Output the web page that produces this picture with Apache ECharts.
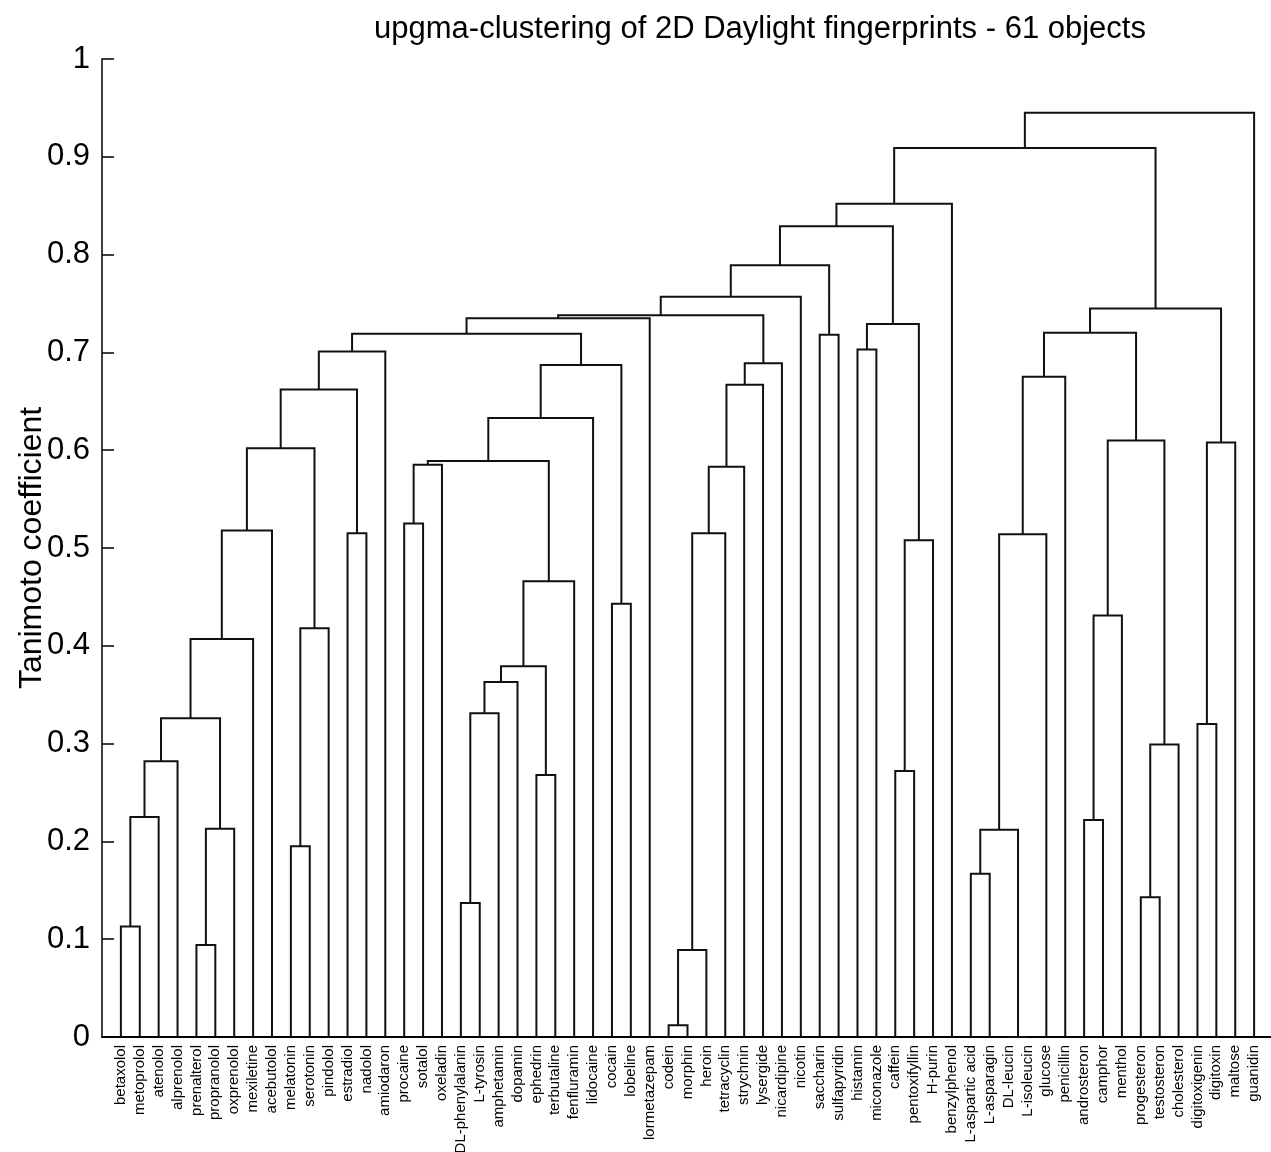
<!DOCTYPE html>
<html>
<head>
<meta charset="utf-8">
<title>upgma-clustering of 2D Daylight fingerprints</title>
<script src="https://cdn.jsdelivr.net/npm/echarts@6/dist/echarts.min.js"></script>
<style>
  html, body { margin: 0; padding: 0; background: #fff; }
  #chart { width: 1271px; height: 1152px; }
</style>
</head>
<body>
<div id="chart"></div>
<script>
  // leaves, in the order they sit under the tree (left to right)
  const leafNames = [
    'betaxolol', 'metoprolol', 'atenolol', 'alprenolol', 'prenalterol', 'propranolol',
    'oxprenolol', 'mexiletine', 'acebutolol', 'melatonin', 'serotonin', 'pindolol',
    'estradiol', 'nadolol', 'amiodaron', 'procaine', 'sotalol', 'oxeladin',
    'DL-phenylalanin', 'L-tyrosin', 'amphetamin', 'dopamin', 'ephedrin', 'terbutaline',
    'fenfluramin', 'lidocaine', 'cocain', 'lobeline', 'lormetazepam', 'codein',
    'morphin', 'heroin', 'tetracyclin', 'strychnin', 'lysergide', 'nicardipine',
    'nicotin', 'saccharin', 'sulfapyridin', 'histamin', 'miconazole', 'caffein',
    'pentoxifyllin', 'H-purin', 'benzylphenol', 'L-aspartic acid', 'L-asparagin', 'DL-leucin',
    'L-isoleucin', 'glucose', 'penicillin', 'androsteron', 'camphor', 'menthol',
    'progesteron', 'testosteron', 'cholesterol', 'digitoxigenin', 'digitoxin', 'maltose',
    'guanidin'
  ];

  // linkage: merge k joins clusters mergeA[k] and mergeB[k] into cluster 61 + k
  // (numbers below 61 are leaves)
  const mergeA = [47, 29, 62, 4, 0, 18, 54, 45, 9, 68,
    64, 51, 65, 22, 41, 73, 67, 57, 76, 66,
    80, 81, 79, 69, 72, 26, 82, 75, 70, 12,
    63, 83, 15, 91, 93, 95, 92, 78, 85, 96,
    97, 94, 89, 100, 102, 101, 39, 37, 106, 103,
    107, 109, 112, 110, 113, 115, 116, 117, 118, 119];
  const mergeB = [48, 30, 31, 5, 1, 19, 55, 46, 10, 61,
    6, 52, 2, 23, 42, 3, 56, 58, 71, 20,
    21, 74, 7, 11, 53, 27, 24, 43, 49, 13,
    32, 8, 16, 33, 17, 87, 84, 59, 77, 25,
    90, 34, 50, 86, 35, 14, 40, 38, 104, 99,
    88, 28, 105, 98, 36, 108, 111, 44, 114, 60];
  const mergeHeight = [0.000, 0.012, 0.089, 0.094, 0.113, 0.137, 0.143, 0.167, 0.195, 0.212,
    0.213, 0.222, 0.225, 0.268, 0.272, 0.282, 0.299, 0.320, 0.326, 0.331,
    0.363, 0.379, 0.407, 0.418, 0.431, 0.443, 0.466, 0.508, 0.514, 0.515,
    0.515, 0.518, 0.525, 0.583, 0.585, 0.589, 0.602, 0.608, 0.610, 0.633,
    0.662, 0.667, 0.675, 0.687, 0.689, 0.701, 0.703, 0.718, 0.719, 0.720,
    0.729, 0.735, 0.738, 0.745, 0.757, 0.789, 0.829, 0.852, 0.909, 0.945];

  const FONT = '"Liberation Sans", Arial, Helvetica, sans-serif';

  // leaf i sits at x = i + 1, a cluster sits between its two children
  let xPos = leafNames.map((_, i) => i + 1);
  let hPos = leafNames.map(() => 0);
  let links = [];
  mergeA.forEach((a, k) => {
    let b = mergeB[k],
      h = mergeHeight[k];
    links.push({
      coords: [[xPos[a], hPos[a]], [xPos[a], h], [xPos[b], h], [xPos[b], hPos[b]]]
    });
    xPos.push((xPos[a] + xPos[b]) / 2);
    hPos.push(h);
  });

  let option = {
    animation: false,
    backgroundColor: '#fff',
    title: {
      text: 'upgma-clustering of 2D Daylight fingerprints - 61 objects',
      left: 755,
      top: 9,
      textAlign: 'center',
      textStyle: {
        color: '#000',
        fontSize: 31,
        fontWeight: 'normal',
        fontFamily: FONT
      }
    },
    grid: {
      left: 102,
      top: 59,
      width: 1171,
      height: 978,
      outerBoundsMode: 'none'
    },
    xAxis: {
      type: 'value',
      min: 0,
      max: 62,
      interval: 1,
      splitLine: { show: false },
      axisTick: { show: false },
      axisLine: { lineStyle: { color: '#000', width: 2 } },
      axisLabel: {
        rotate: 90,
        margin: 8,
        color: '#000',
        fontSize: 15,
        fontFamily: FONT,
        formatter: v => leafNames[v - 1] || ''
      }
    },
    yAxis: {
      type: 'value',
      min: 0,
      max: 1,
      interval: 0.1,
      name: 'Tanimoto coefficient',
      nameLocation: 'middle',
      nameGap: 54,
      nameMoveOverlap: false,
      nameTextStyle: { color: '#000', fontSize: 32, fontFamily: FONT },
      splitLine: { show: false },
      axisLine: { lineStyle: { color: '#000', width: 1.5 } },
      axisTick: { inside: true, length: 12, lineStyle: { color: '#000', width: 1.5 } },
      axisLabel: { margin: 12, color: '#000', fontSize: 31, fontFamily: FONT }
    },
    series: [{
      type: 'lines',
      coordinateSystem: 'cartesian2d',
      polyline: true,
      silent: true,
      lineStyle: { color: '#111', width: 2, opacity: 1 },
      data: links
    }]
  };

  echarts.init(document.getElementById('chart')).setOption(option);
</script>
</body>
</html>
